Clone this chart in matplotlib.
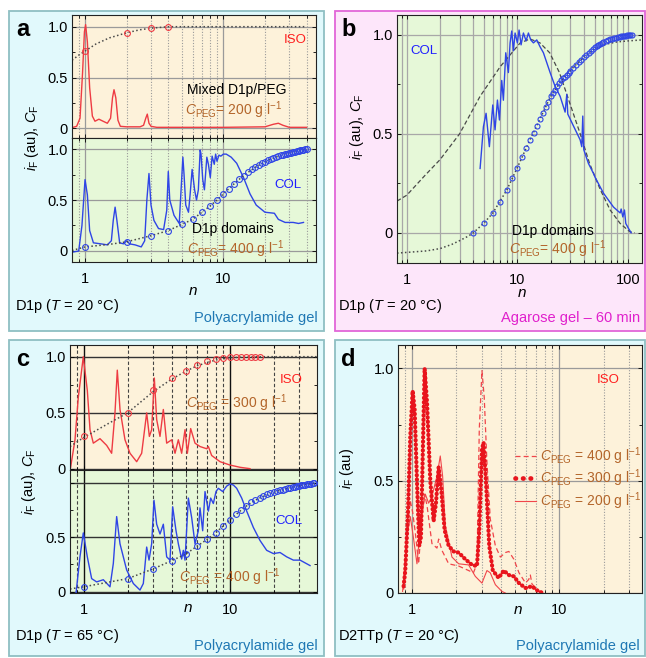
import matplotlib
matplotlib.use("Agg")
import matplotlib.pyplot as plt
from matplotlib.patches import Rectangle
from matplotlib.lines import Line2D
from matplotlib.ticker import NullFormatter

plt.rcParams['font.family'] = ['Liberation Sans', 'DejaVu Sans']
plt.rcParams['mathtext.fontset'] = 'custom'
plt.rcParams['mathtext.rm'] = 'Liberation Sans'
plt.rcParams['mathtext.it'] = 'Liberation Sans:italic'
plt.rcParams['mathtext.bf'] = 'Liberation Sans:bold'
plt.rcParams['xtick.labelsize'] = 10.5
plt.rcParams['ytick.labelsize'] = 10.5

# ---------------- data ----------------
# panel a, top: ISO, mixed D1p/PEG, C_PEG = 200 g/l
a_iso_n = [0.82, 0.87, 0.92, 0.96, 0.99, 1.01, 1.04, 1.08, 1.13, 1.18,
           1.26, 1.35, 1.45, 1.53, 1.58, 1.62, 1.67, 1.73, 1.8, 2.0,
           2.5, 2.65, 2.75, 2.82, 2.9, 3.0, 3.3, 5.0, 10, 20,
           23, 25, 27, 30, 40]
a_iso_i = [0.01, 0.02, 0.1, 0.55, 0.95, 1.02, 0.85, 0.4, 0.12, 0.07,
           0.09, 0.07, 0.05, 0.1, 0.3, 0.38, 0.3, 0.08, 0.02, 0.015,
           0.015, 0.03, 0.1, 0.14, 0.05, 0.02, 0.01, 0.01, 0.01, 0.015,
           0.04, 0.05, 0.03, 0.01, 0.01]
a_iso_cf_n = [1, 2, 3, 4]
a_iso_cf = [0.76, 0.94, 0.99, 1.0]
a_iso_fit_n = [0.805, 0.9, 1.0, 1.2, 1.5, 2.0, 2.5, 3.0, 4.0, 10, 40]
a_iso_fit = [0.67, 0.72, 0.76, 0.83, 0.89, 0.94, 0.97, 0.985, 1.0, 1.0, 1.0]

# panel a, bottom: COL, D1p domains, C_PEG = 400 g/l
a_col_n = [0.82, 0.9, 0.95, 1.0, 1.04, 1.08, 1.15, 1.3, 1.45, 1.55,
           1.6, 1.65, 1.7, 1.78, 1.9, 2.0, 2.1, 2.3, 2.55, 2.7,
           2.8, 2.9, 3.0, 3.15, 3.4, 3.7, 3.9, 4.0, 4.1, 4.4,
           4.8, 4.95, 5.1, 5.2, 5.35, 5.6, 5.75, 5.95, 6.2, 6.4,
           6.6, 6.8, 6.9, 7.1, 7.3, 7.6, 7.8, 8.05, 8.3, 8.6,
           8.8, 9.0, 9.3, 9.6, 10.0, 10.5, 11.4, 12.5, 14, 15.6,
           17.3, 20, 23.4, 25, 28, 32, 35, 38]
a_col_i = [-0.01, 0.0, 0.25, 0.70, 0.55, 0.2, 0.08, 0.07, 0.06, 0.1,
           0.3, 0.43, 0.3, 0.08, 0.07, 0.1, 0.07, 0.06, 0.04, 0.1,
           0.5, 0.76, 0.45, 0.3, 0.22, 0.21, 0.4, 0.78, 0.5, 0.35,
           0.27, 0.6, 0.92, 0.75, 0.45, 0.38, 0.55, 0.80, 0.6, 0.5,
           0.6, 0.99, 0.95, 0.7, 0.6, 0.92, 0.85, 0.72, 0.93, 0.85,
           0.95, 0.88, 0.94, 0.93, 0.95, 0.95, 0.92, 0.86, 0.72, 0.56,
           0.45, 0.38, 0.37, 0.31, 0.28, 0.28, 0.27, 0.28]
a_col_cf_n = [1, 2, 3, 4, 5, 6, 7, 8, 9, 10,
              11, 12, 13, 14, 15, 16, 17, 18, 19, 20,
              21, 22, 23, 24, 25, 26, 27, 28, 29, 30,
              31, 32, 33, 34, 35, 36, 37, 38, 39, 40]
a_col_cf = [0.04, 0.09, 0.15, 0.2, 0.26, 0.31, 0.38, 0.44, 0.5, 0.56,
            0.61, 0.66, 0.71, 0.74, 0.77, 0.8, 0.82, 0.84, 0.86, 0.875,
            0.89, 0.9, 0.91, 0.92, 0.93, 0.94, 0.945, 0.95, 0.955, 0.96,
            0.965, 0.97, 0.975, 0.98, 0.985, 0.99, 0.99, 0.995, 1.0, 1.0]
a_col_fit_n = [0.805, 1, 1.5, 2, 3, 4, 5, 6, 7, 8, 9, 10, 12, 14, 17, 20, 25, 30, 40]
a_col_fit = [0.005, 0.04, 0.065, 0.09, 0.15, 0.2, 0.26, 0.31, 0.38, 0.44, 0.5,
             0.56, 0.66, 0.74, 0.82, 0.875, 0.93, 0.96, 1.0]

# panel b: agarose gel, COL
b_col_n = [4.60, 4.93, 5.21, 5.58, 5.99, 6.28, 6.60, 6.88, 7.22, 7.47,
           7.85, 8.29, 8.59, 8.89, 9.21, 9.53, 10.0, 10.36, 10.8, 11.34,
           11.99, 12.58, 13.21, 13.97, 14.97, 16.05, 17.2, 18.44, 19.77, 21.94,
           24.35, 27.02, 27.98, 28.57, 32.15, 36.94, 38.24, 39.04, 39.86, 43.94,
           48.76, 50.49, 60.05, 73.97, 85.0, 86.8, 89.9, 93.0, 95.6, 101.1,
           106.9]
b_col_i = [0.325, 0.536, 0.604, 0.435, 0.646, 0.52, 0.671, 0.57, 0.77, 0.67,
           0.91, 0.81, 0.96, 1.02, 0.92, 1.01, 0.96, 1.025, 0.95, 1.01,
           0.97, 1.01, 0.975, 0.96, 0.975, 0.94, 0.91, 0.86, 0.81, 0.74,
           0.69, 0.61, 0.70, 0.6, 0.54, 0.47, 0.435, 0.59, 0.42, 0.35,
           0.30, 0.28, 0.2, 0.13, 0.1, 0.12, 0.08, 0.115, 0.047, 0.022,
           0.0]
b_gauss_n = [0.815, 1.0, 1.46, 2.0, 3.0, 4.6, 7.0, 10.6, 13, 16,
             19.6, 24, 30, 37, 45, 56, 69, 85, 104, 115]
b_gauss = [0.16, 0.19, 0.29, 0.37, 0.5, 0.69, 0.84, 0.96, 0.98, 0.96,
           0.91, 0.81, 0.65, 0.5, 0.35, 0.22, 0.115, 0.047, 0.005, 0.0]
b_cf_n = [4, 5, 6, 7, 8, 9, 10, 11, 12, 13, 14, 15, 16, 17, 18, 19, 20,
          21, 22, 23, 24, 25, 26, 27, 28, 29, 30,
          32, 34, 36, 38, 40, 42, 44, 46, 48, 50, 52, 54, 56, 58, 60,
          63, 66, 69, 72, 75, 78, 81, 84, 87, 90, 93, 96, 99, 102, 105, 108]
b_cf = [0.0, 0.047, 0.101, 0.157, 0.216, 0.275, 0.329, 0.381, 0.427, 0.469,
        0.506, 0.540, 0.575, 0.607, 0.634, 0.663, 0.69,
        0.705, 0.72, 0.74, 0.755, 0.77, 0.78, 0.79, 0.80, 0.81, 0.82,
        0.835, 0.85, 0.865, 0.875, 0.89, 0.90, 0.91, 0.92, 0.93, 0.94,
        0.945, 0.95, 0.955, 0.96, 0.965,
        0.97, 0.975, 0.978, 0.981, 0.984, 0.987, 0.99, 0.992, 0.994, 0.995,
        0.996, 0.997, 0.998, 0.999, 1.0, 1.0]
b_fit_n = [0.815, 1.5, 2.0, 2.55, 3.0, 3.6, 4, 5, 6, 8, 10, 13, 16, 20,
           25, 30, 40, 50, 65, 80, 100, 134]
b_fit = [-0.103, -0.092, -0.08, -0.059, -0.04, -0.017, 0.0, 0.05, 0.1, 0.215,
         0.33, 0.47, 0.575, 0.69, 0.77, 0.82, 0.89, 0.93, 0.955, 0.965, 0.97, 0.975]

# panel c, top: ISO, C_PEG = 300 g/l (T = 65 C)
c_iso_n = [0.814, 0.872, 0.919, 0.994, 1.059, 1.105, 1.164, 1.293, 1.437, 1.554,
           1.638, 1.699, 1.773, 1.918, 2.076, 2.306, 2.495, 2.700, 2.817, 2.921,
           3.046, 3.161, 3.331, 3.511, 3.701, 4.005, 4.221, 4.449, 4.688, 4.942,
           5.128, 5.404, 5.786, 6.260, 6.956, 7.141, 7.523, 8.585, 10.05, 11.77,
           13.77]
c_iso_i = [0.015, 0.26, 0.64, 1.0, 0.70, 0.35, 0.23, 0.27, 0.21, 0.14,
           0.5, 0.88, 0.53, 0.26, 0.14, 0.065, 0.14, 0.5, 0.29, 0.35,
           0.81, 0.44, 0.29, 0.53, 0.23, 0.26, 0.14, 0.26, 0.14, 0.35,
           0.14, 0.36, 0.23, 0.2, 0.18, 0.2, 0.12, 0.065, 0.035, 0.015,
           0.003]
c_iso_cf_n = [1, 2, 3, 4, 5, 6, 7, 8, 9, 10, 11, 12, 13, 14, 15, 16]
c_iso_cf = [0.29, 0.5, 0.70, 0.81, 0.875, 0.93, 0.96, 0.98, 0.99, 0.995,
            1.0, 1.0, 1.0, 1.0, 1.0, 1.0]
c_iso_fit_n = [0.806, 1, 1.5, 2, 3, 4, 5, 6, 8, 10, 14, 39.6]
c_iso_fit = [0.2, 0.28, 0.41, 0.5, 0.69, 0.8, 0.87, 0.92, 0.97, 0.99, 1.0, 1.0]

# panel c, bottom: COL, C_PEG = 400 g/l
c_col_n = [0.886, 0.943, 0.994, 1.059, 1.134, 1.227, 1.363, 1.514, 1.596, 1.682,
           1.773, 1.969, 2.188, 2.430, 2.561, 2.700, 2.802, 2.921, 3.030, 3.161,
           3.331, 3.511, 3.701, 3.901, 4.069, 4.288, 4.449, 4.688, 4.814, 4.942,
           5.209, 5.490, 5.786, 6.098, 6.260, 6.529, 6.774, 7.141, 7.407, 7.725,
           8.057, 8.360, 8.951, 9.533, 10.05, 10.59, 11.16, 12.08, 13.07, 14.52,
           16.13, 17.91, 19.90, 22.11, 24.56, 27.29, 30.31, 35.48]
c_col_i = [-0.015, 0.32, 0.54, 0.32, 0.12, 0.09, 0.11, 0.045, 0.26, 0.69,
           0.44, 0.2, 0.075, 0.015, 0.075, 0.41, 0.29, 0.44, 0.84, 0.62,
           0.53, 0.62, 0.32, 0.29, 0.78, 0.56, 0.44, 0.30, 0.38, 0.29,
           0.86, 0.68, 0.44, 0.56, 0.77, 0.56, 0.92, 0.74, 0.86, 0.81,
           0.92, 0.95, 0.92, 0.97, 0.99, 0.98, 0.95, 0.86, 0.74, 0.59,
           0.47, 0.38, 0.35, 0.36, 0.32, 0.29, 0.29, 0.24]
c_col_cf_n = [1, 2, 3, 4, 5, 6, 7, 8, 9, 10,
              11, 12, 13, 14, 15, 16, 17, 18, 19, 20,
              21, 22, 23, 24, 25, 26, 27, 28, 29, 30,
              31, 32, 33, 34, 35, 36, 37, 38]
c_col_cf = [0.045, 0.12, 0.21, 0.285, 0.345, 0.42, 0.48, 0.54, 0.6, 0.66,
            0.71, 0.75, 0.79, 0.82, 0.84, 0.86, 0.88, 0.895, 0.905, 0.915,
            0.922, 0.93, 0.937, 0.945, 0.95, 0.955, 0.96, 0.965, 0.97, 0.975,
            0.977, 0.98, 0.983, 0.985, 0.988, 0.99, 0.995, 1.0]
c_col_fit_n = [0.806, 1, 2, 3, 4, 5, 6, 7, 8, 10, 12, 14, 16, 20, 25, 30, 39.6]
c_col_fit = [0.025, 0.045, 0.12, 0.21, 0.285, 0.345, 0.42, 0.48, 0.54, 0.66,
             0.75, 0.82, 0.86, 0.915, 0.95, 0.975, 1.0]

# panel d: D2TTp, ISO, three PEG concentrations
d_400_n = [0.880, 0.927, 0.977, 1.013, 1.056, 1.113, 1.172, 1.222, 1.268, 1.370,
           1.482, 1.521, 1.601, 1.779, 2.080, 2.430, 2.620, 2.769, 2.871, 2.993,
           3.102, 3.236, 3.408, 3.691, 3.990, 4.314, 4.557, 4.932, 5.339, 5.909,
           6.216, 6.375, 6.540, 7.238, 7.613]
d_400_i = [0.015, 0.28, 0.41, 0.36, 0.27, 0.13, 0.34, 0.44, 0.39, 0.22,
           0.2, 0.24, 0.19, 0.13, 0.12, 0.1, 0.09, 0.13, 0.73, 0.99,
           0.87, 0.58, 0.33, 0.21, 0.16, 0.18, 0.185, 0.15, 0.09, 0.045,
           0.06, 0.08, 0.04, 0.01, 0.0]
d_300_n = [0.880, 0.903, 0.942, 0.977, 1.013, 1.045, 1.084, 1.124, 1.154, 1.185,
           1.222, 1.268, 1.335, 1.406, 1.459, 1.521, 1.585, 1.670, 1.779, 1.923,
           2.080, 2.311, 2.563, 2.769, 2.871, 2.993, 3.071, 3.185, 3.354, 3.545,
           3.889, 4.210, 4.557, 4.932, 5.339, 5.909, 6.540, 7.238, 7.810]
d_300_i = [0.03, 0.1, 0.36, 0.7, 0.90, 0.82, 0.5, 0.21, 0.25, 0.6,
           1.0, 0.85, 0.5, 0.32, 0.4, 0.56, 0.46, 0.28, 0.21, 0.185,
           0.18, 0.15, 0.125, 0.12, 0.28, 0.64, 0.67, 0.5, 0.21, 0.1,
           0.067, 0.1, 0.08, 0.074, 0.044, 0.022, 0.03, 0.007, 0.0]
d_200_n = [0.866, 0.927, 0.977, 1.029, 1.084, 1.160, 1.235, 1.301, 1.370, 1.482,
           1.560, 1.619, 1.688, 1.873, 2.080, 2.430, 2.698, 2.993, 3.236, 3.408,
           3.691, 4.09, 4.31]
d_200_i = [0.007, 0.25, 0.34, 0.24, 0.13, 0.34, 0.44, 0.4, 0.43, 0.52,
           0.61, 0.52, 0.3, 0.16, 0.13, 0.125, 0.074, 0.044, 0.1, 0.09,
           0.037, 0.007, 0.0]

# ---------------- figure ----------------
W, H = 646, 658
fig = plt.figure(figsize=(W / 100, H / 100), dpi=100)

RED = '#ee3b43'
BLUE = '#2f45e6'
BROWN = '#b3652a'
FITC = '#4a4a4a'
ORANGE_BG = '#fdf2da'
GREEN_BG = '#e6f8d8'


def box(x0, y0, x1, y1, fc, ec):
    fig.add_artist(Rectangle((x0 / W, 1 - y1 / H), (x1 - x0) / W, (y1 - y0) / H,
                             transform=fig.transFigure, facecolor=fc, edgecolor=ec,
                             lw=1.3, zorder=-5))


def ftext(x, y, s, **kw):
    fig.text(x / W, 1 - y / H, s, **kw)


def add_ax(x0, y0, x1, y1, bg):
    ax = fig.add_axes([x0 / W, 1 - y1 / H, (x1 - x0) / W, (y1 - y0) / H])
    ax.set_facecolor(bg)
    return ax


def setup(ax, xlim, ylim, ylabels, vminor, vmajor, hgrid, xlabels=True):
    ax.set_xscale('log')
    ax.set_xlim(*xlim)
    ax.set_ylim(*ylim)
    majors = [t for t in (1, 10, 100) if xlim[0] <= t <= xlim[1]]
    minors = [k * 10.0 ** e for e in (-1, 0, 1, 2) for k in range(2, 10)
              if xlim[0] <= k * 10.0 ** e <= xlim[1]]
    ax.set_xticks(majors)
    ax.set_xticks(minors, minor=True)
    ax.set_xticklabels([str(t) for t in majors] if xlabels else [])
    ax.xaxis.set_minor_formatter(NullFormatter())
    ax.set_yticks([0, 0.5, 1.0], ylabels)
    ax.set_yticks([0.25, 0.75], minor=True)
    ax.tick_params(which='both', direction='in', top=True, right=True,
                   width=0.6, length=3, pad=3)
    ax.tick_params(axis='x', which='major', pad=7)
    ax.tick_params(which='minor', length=2)
    for x in minors:
        ax.axvline(x, zorder=0.5, **vminor)
    for x in majors:
        ax.axvline(x, zorder=0.6, **vmajor)
    for y in (0, 0.5, 1.0):
        ax.axhline(y, zorder=0.6, **hgrid)
    for sp in ax.spines.values():
        sp.set_linewidth(0.8)
        sp.set_color('#222222')


def fit(ax, n, v):
    ax.plot(n, v, color=FITC, lw=1.1, ls=(0, (1, 1.6)), zorder=2)


def circles(ax, n, v, c, ms=4.2):
    ax.plot(n, v, ls='none', marker='o', ms=ms, mfc='none', mec=c, mew=0.8, zorder=3)


# panel boxes
box(9, 11, 324, 331, '#e1f9fc', '#8fbfc3')
box(335, 11, 645, 331, '#fde6fa', '#e266d8')
box(9, 340, 324, 656, '#e1f9fc', '#8fbfc3')
box(335, 340, 645, 656, '#e1f9fc', '#8fbfc3')

g_dot = dict(color='#9a9a9a', lw=0.8, ls=(0, (1, 1.5)))
g_sol = dict(color='#9a9a9a', lw=0.9, ls='-')
g_solb = dict(color='#a8a8a8', lw=0.9, ls='-')
g_dash = dict(color='#444444', lw=0.8, ls=(0, (3, 2)))
g_blk = dict(color='#111111', lw=1.0, ls='-')
g_hc = dict(color='#333333', lw=1.0, ls='-')

lab3 = ['0', '0.5', '1.0']

# ---- panel a ----
xa = (0.805, 46.8)
ax = add_ax(72, 15, 316, 138, ORANGE_BG)
setup(ax, xa, (-0.095, 1.115), lab3, g_dot, g_sol, g_sol, xlabels=False)
ax.plot(a_iso_n, a_iso_i, color=RED, lw=1.0, zorder=2)
fit(ax, a_iso_fit_n, a_iso_fit)
circles(ax, a_iso_cf_n, a_iso_cf, RED)

ax = add_ax(72, 138, 316, 262, GREEN_BG)
setup(ax, xa, (-0.108, 1.108), lab3, g_dot, g_sol, g_sol)
ax.plot(a_col_n, a_col_i, color=BLUE, lw=1.0, zorder=2)
fit(ax, a_col_fit_n, a_col_fit)
circles(ax, a_col_cf_n, a_col_cf, BLUE)

# ---- panel b ----
ax = add_ax(397, 15, 642, 263, GREEN_BG)
setup(ax, (0.815, 134), (-0.153, 1.101), lab3, g_solb, g_solb, g_solb)
ax.plot(b_gauss_n, b_gauss, color=FITC, lw=0.9, ls=(0, (3.5, 2)), zorder=2)
ax.plot(b_col_n, b_col_i, color=BLUE, lw=1.0, zorder=2.5)
fit(ax, b_fit_n, b_fit)
circles(ax, b_cf_n, b_cf, BLUE, ms=3.6)

# ---- panel c ----
xc = (0.806, 39.6)
ax = add_ax(70, 345, 317, 470, ORANGE_BG)
setup(ax, xc, (-0.009, 1.104), lab3, g_dash, g_blk, g_hc, xlabels=False)
ax.plot(c_iso_n, c_iso_i, color=RED, lw=1.0, zorder=2)
fit(ax, c_iso_fit_n, c_iso_fit)
circles(ax, c_iso_cf_n, c_iso_cf, RED)

ax = add_ax(70, 470, 317, 593, GREEN_BG)
setup(ax, xc, (-0.012, 1.118), ['0', '0.5', ''], g_dash, g_blk, g_hc)
ax.plot(c_col_n, c_col_i, color=BLUE, lw=1.0, zorder=2)
fit(ax, c_col_fit_n, c_col_fit)
circles(ax, c_col_cf_n, c_col_cf, BLUE)

# ---- panel d ----
ax = add_ax(398, 345, 642, 593, ORANGE_BG)
setup(ax, (0.806, 36.5), (0, 1.104), lab3, g_dot, g_sol, g_sol)
DOTS = (0, (0.1, 0.95))
ax.plot(d_400_n, d_400_i, color='#f0454a', lw=0.9, ls=(0, (4, 2.5)), zorder=2)
ax.plot(d_200_n, d_200_i, color='#f0454a', lw=0.8, zorder=2)
ax.plot(d_300_n, d_300_i, color='#e8141c', lw=3.0, ls=DOTS,
        dash_capstyle='round', zorder=2.5)
handles = [Line2D([], [], color='#f0454a', lw=0.9, ls=(0, (4, 2.5))),
           Line2D([], [], color='#e8141c', lw=3.4, ls=(0, (0.1, 1.5)), dash_capstyle='round'),
           Line2D([], [], color='#f0454a', lw=0.8)]
labels = [r'$C_{\mathrm{PEG}}$ = 400 g l$^{-1}$',
          r'$C_{\mathrm{PEG}}$ = 300 g l$^{-1}$',
          r'$C_{\mathrm{PEG}}$ = 200 g l$^{-1}$']
ax.legend(handles, labels, loc='upper left', bbox_to_anchor=(515 / W, 1 - 445 / H),
          bbox_transform=fig.transFigure, frameon=False, fontsize=10,
          labelcolor=BROWN, handlelength=1.5, handletextpad=0.3,
          labelspacing=0.08, borderpad=0, borderaxespad=0)

# ---------------- texts ----------------
for x, y, s in [(16, 36, 'a'), (341, 36, 'b'), (16, 366, 'c'), (341, 366, 'd')]:
    ftext(x, y, s, fontsize=17, fontweight='bold', va='baseline')

ylab = r'$i_{\mathrm{F}}$ (au), $C_{\mathrm{F}}$'
ftext(32, 138, ylab, rotation=90, ha='center', va='center', fontsize=10.5)
ftext(357, 127, ylab, rotation=90, ha='center', va='center', fontsize=10.5)
ftext(29, 482, ylab, rotation=90, ha='center', va='center', fontsize=10.5)
ftext(347, 468, r'$i_{\mathrm{F}}$ (au)', rotation=90, ha='center', va='center', fontsize=10.5)

for x, y in [(193, 291), (522, 293), (188, 608), (518, 610)]:
    ftext(x, y, r'$n$', ha='center', va='center', fontsize=11)

ftext(15, 310, r'D1p ($T$ = 20 °C)', fontsize=10.5, va='baseline')
ftext(338, 310, r'D1p ($T$ = 20 °C)', fontsize=10.5, va='baseline')
ftext(15, 640, r'D1p ($T$ = 65 °C)', fontsize=10.5, va='baseline')
ftext(338, 640, r'D2TTp ($T$ = 20 °C)', fontsize=10.5, va='baseline')

GELC = '#1f78b4'
ftext(318, 322, 'Polyacrylamide gel', fontsize=10.5, color=GELC, ha='right', va='baseline')
ftext(640, 322, 'Agarose gel – 60 min', fontsize=10.5, color='#e020cc', ha='right', va='baseline')
ftext(318, 650, 'Polyacrylamide gel', fontsize=10.5, color=GELC, ha='right', va='baseline')
ftext(640, 650, 'Polyacrylamide gel', fontsize=10.5, color=GELC, ha='right', va='baseline')

# labels inside the plots
ISOC = '#ff1e1e'
COLC = '#1f1fff'
ftext(295, 40, 'ISO', color=ISOC, fontsize=9.5, ha='center', va='center')
ftext(237, 90, 'Mixed D1p/PEG', fontsize=10, ha='center', va='center')
ftext(234, 110, r'$C_{\mathrm{PEG}}$= 200 g l$^{-1}$', color=BROWN, fontsize=10, ha='center', va='center')
ftext(288, 185, 'COL', color=COLC, fontsize=9.5, ha='center', va='center')
ftext(233, 229, 'D1p domains', fontsize=10, ha='center', va='center')
ftext(236, 249, r'$C_{\mathrm{PEG}}$= 400 g l$^{-1}$', color=BROWN, fontsize=10, ha='center', va='center')

ftext(424, 51, 'COL', color=COLC, fontsize=9.5, ha='center', va='center')
ftext(553, 231, 'D1p domains', fontsize=10, ha='center', va='center')
ftext(558, 249, r'$C_{\mathrm{PEG}}$= 400 g l$^{-1}$', color=BROWN, fontsize=10, ha='center', va='center')

ftext(291, 380, 'ISO', color=ISOC, fontsize=9.5, ha='center', va='center')
ftext(237, 403, r'$C_{\mathrm{PEG}}$ = 300 g l$^{-1}$', color=BROWN, fontsize=10, ha='center', va='center')
ftext(289, 521, 'COL', color=COLC, fontsize=9.5, ha='center', va='center')
ftext(230, 577, r'$C_{\mathrm{PEG}}$ = 400 g l$^{-1}$', color=BROWN, fontsize=10, ha='center', va='center')

ftext(608, 380, 'ISO', color=ISOC, fontsize=9.5, ha='center', va='center')

fig.savefig('out.png', dpi=100)
